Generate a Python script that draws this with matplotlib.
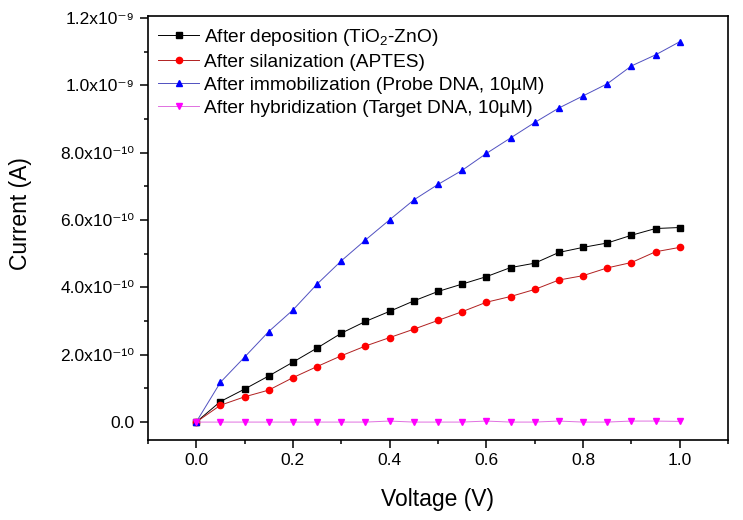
import numpy as np
import matplotlib
matplotlib.use('Agg')
import matplotlib.pyplot as plt
from matplotlib.ticker import MultipleLocator, FuncFormatter

plt.rcParams['font.family'] = ['Liberation Sans', 'DejaVu Sans']
plt.rcParams['mathtext.fontset'] = 'custom'
plt.rcParams['mathtext.rm'] = 'Liberation Sans'
plt.rcParams['mathtext.it'] = 'Liberation Sans:italic'

# voltage (V)
voltage = np.round(np.arange(0, 1.0001, 0.05), 2)

# current values in units of 1e-9 A
deposition = [0, 0.061, 0.098, 0.137, 0.178, 0.220, 0.264, 0.299, 0.329, 0.360,
              0.388, 0.410, 0.432, 0.459, 0.472, 0.504, 0.519, 0.532, 0.555,
              0.575, 0.578]
silanization = [0, 0.050, 0.075, 0.095, 0.132, 0.165, 0.197, 0.226, 0.251, 0.276,
                0.302, 0.328, 0.356, 0.373, 0.394, 0.422, 0.435, 0.458, 0.474,
                0.506, 0.519]
immobilization = [0, 0.118, 0.193, 0.269, 0.333, 0.410, 0.479, 0.541, 0.601, 0.660,
                  0.706, 0.748, 0.798, 0.844, 0.890, 0.933, 0.969, 1.005, 1.058,
                  1.091, 1.130]
hybridization = [0, 0, 0, 0, 0, 0, 0, 0, 0.003, 0, 0, 0, 0.003, 0, 0, 0.003,
                 0, 0, 0.003, 0.003, 0.002]

labels = ['After deposition (TiO$_2$-ZnO)',
          'After silanization (APTES)',
          'After immobilization (Probe DNA, 10\u00b5M)',
          'After hybridization (Target DNA, 10\u00b5M)']
colors = ['black', '#ff0000', '#0000ff', '#ff00ff']
line_colors = ['black', '#b02020', '#5050c0', '#e070e0']
markers = ['s', 'o', '^', 'v']
series = [deposition, silanization, immobilization, hybridization]

SUP = str.maketrans('-0123456789', '\u207b\u2070\u00b9\u00b2\u00b3\u2074\u2075\u2076\u2077\u2078\u2079')


def sci_fmt(v, pos):
    if abs(v) < 1e-15:
        return '0.0'
    exp = int(np.floor(np.log10(abs(v)) + 1e-9))
    mant = v / 10 ** exp
    return '%.1fx10%s' % (mant, str(exp).translate(SUP))


fig = plt.figure(figsize=(7.43, 5.2), dpi=100)
ax = fig.add_axes([0.199, 0.154, 0.781, 0.815])

for y, lab, c, lc, m in zip(series, labels, colors, line_colors, markers):
    ax.plot(voltage, np.array(y) * 1e-9, color=lc, lw=0.7, marker=m, ms=4.5,
            mfc=c, mec=c, label=lab)

ax.set_xlim(-0.1, 1.1)
ax.set_ylim(-5.3e-11, 1.206e-9)
ax.xaxis.set_major_locator(MultipleLocator(0.2))
ax.xaxis.set_minor_locator(MultipleLocator(0.1))
ax.yaxis.set_major_locator(MultipleLocator(2e-10))
ax.yaxis.set_minor_locator(MultipleLocator(1e-10))
ax.xaxis.set_major_formatter(FuncFormatter(lambda v, p: '%.1f' % v))
ax.yaxis.set_major_formatter(FuncFormatter(sci_fmt))
ax.tick_params(which='major', direction='out', length=5.5, width=1.1,
               labelsize=12.5, pad=4, top=False, right=False)
ax.tick_params(which='minor', direction='out', length=2.8, width=1.1,
               top=False, right=False)
for s in ax.spines.values():
    s.set_linewidth(1.2)

ax.set_xlabel('Voltage (V)', fontsize=16.5, labelpad=14)
ax.set_ylabel('Current (A)', fontsize=16.5)
ax.yaxis.set_label_coords(-0.2, 0.533)

ax.legend(loc='upper left', frameon=False, fontsize=13.8, handlelength=2.1,
          handletextpad=0.3, labelspacing=0.3, borderaxespad=0.25,
          borderpad=0.3)

fig.savefig('out.png', dpi=100)
